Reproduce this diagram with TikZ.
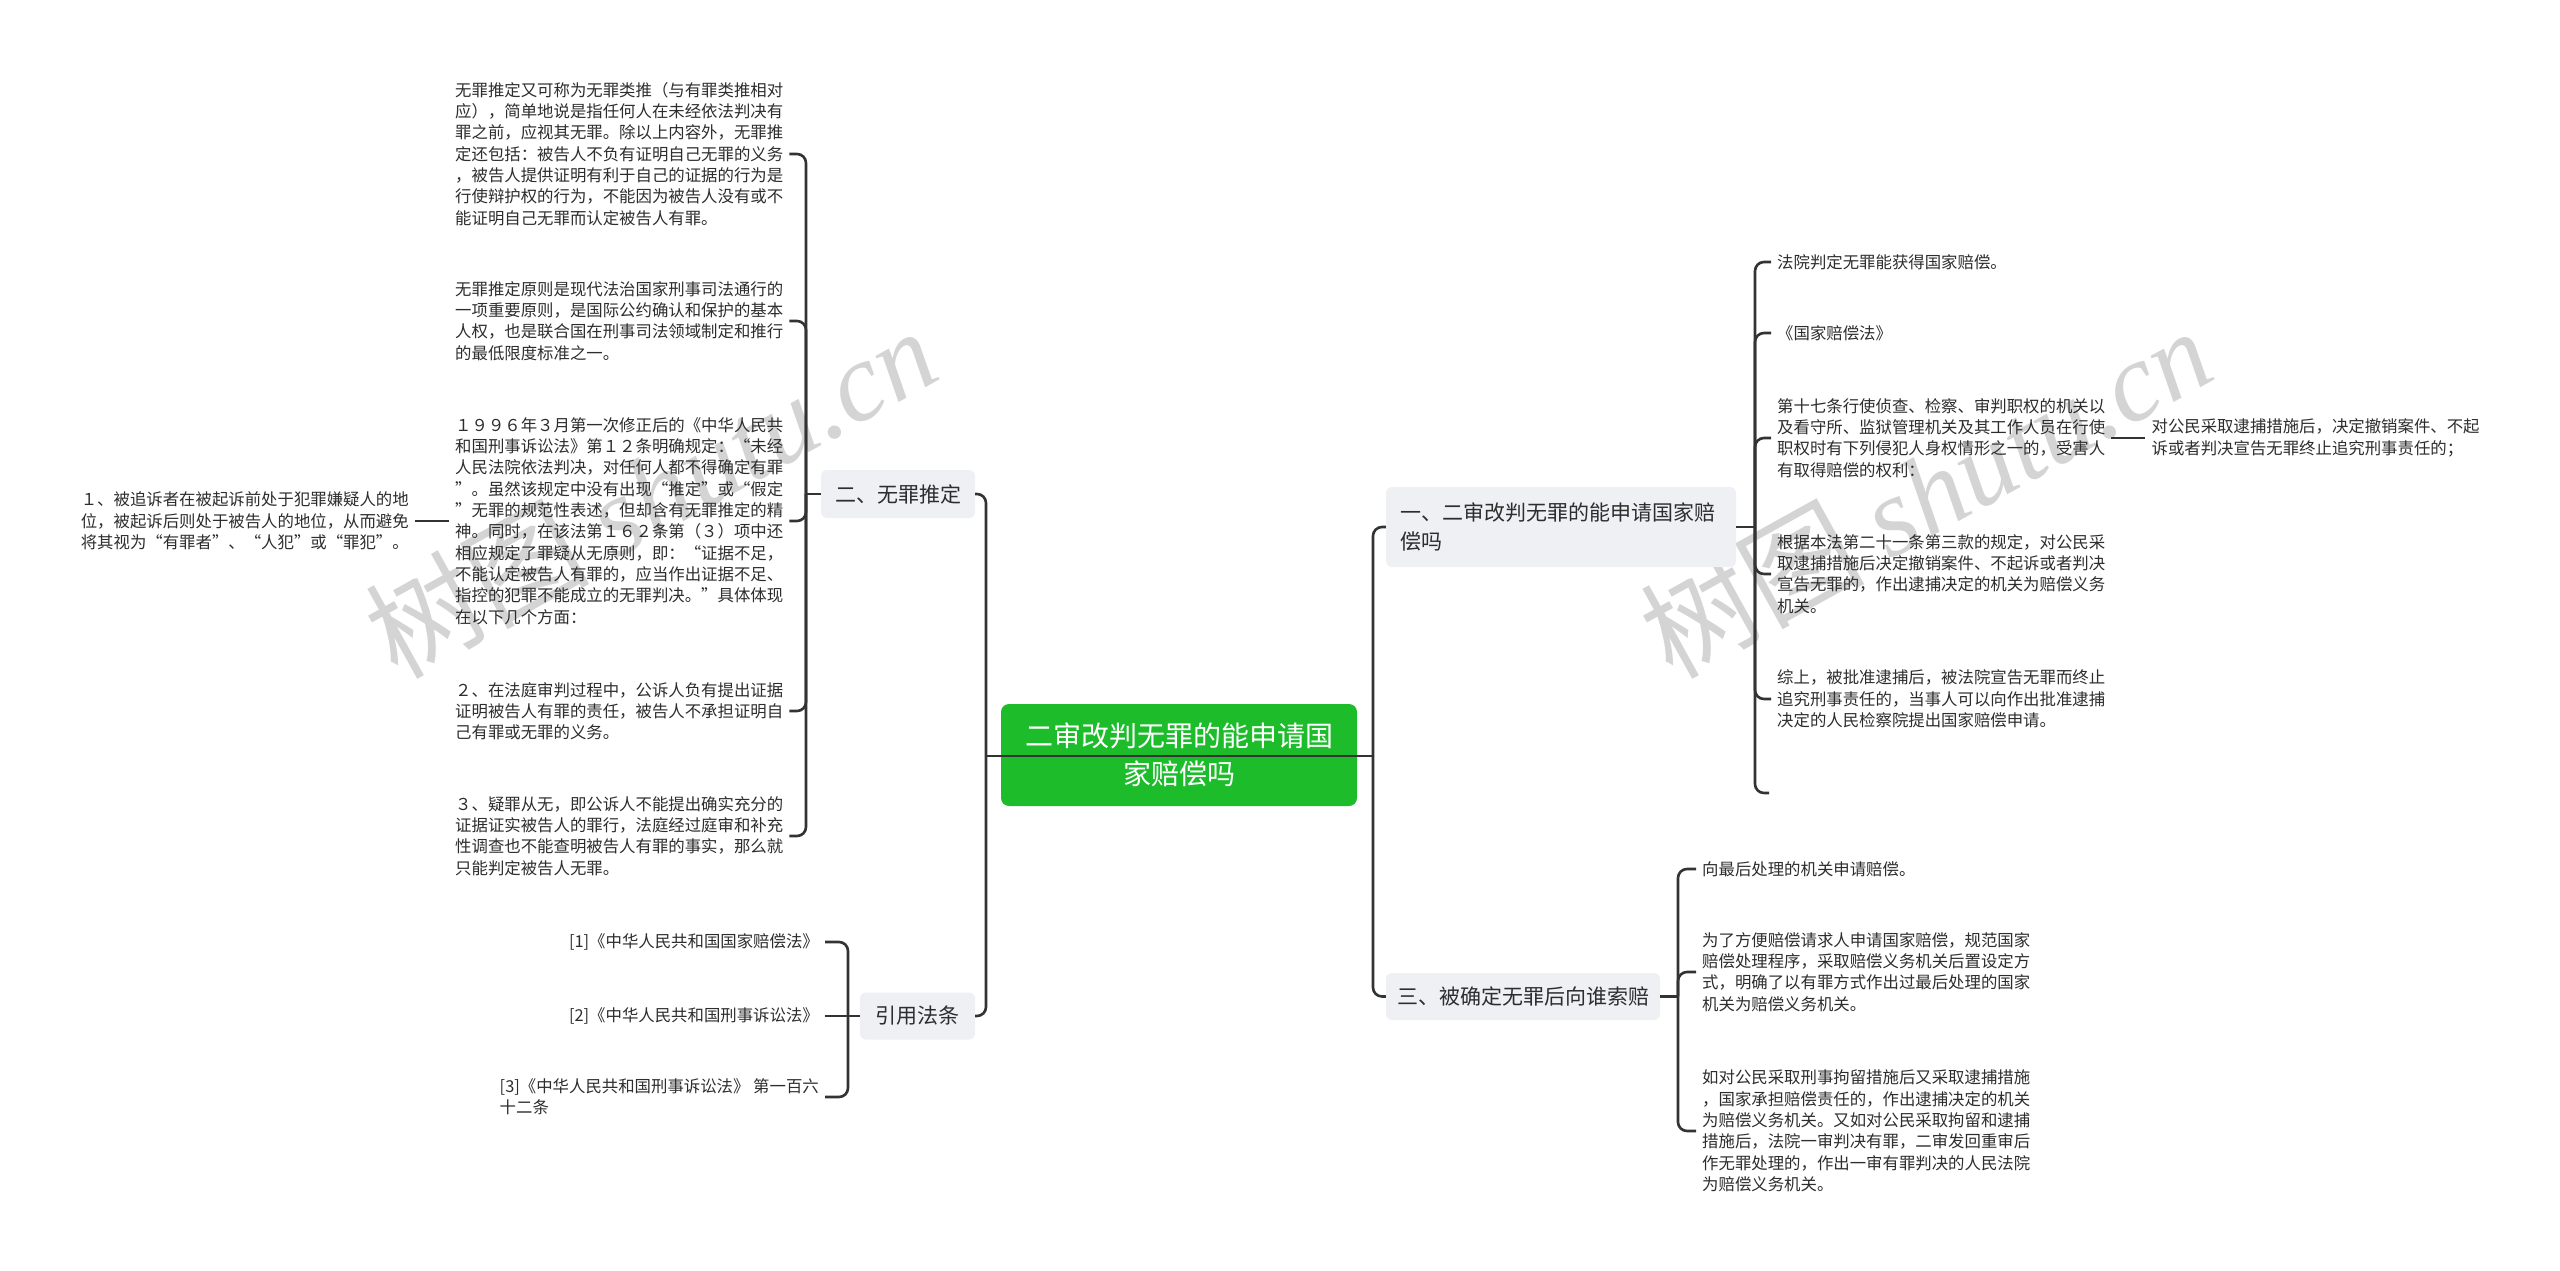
\documentclass[tikz,border=0pt]{standalone}
\usepackage{fontspec}
\setmainfont{Noto Sans CJK SC}
\newfontfamily\wmfont{Liberation Serif}
\definecolor{lc}{RGB}{51,51,51}
\definecolor{tc}{RGB}{45,45,45}
\definecolor{lonefill}{RGB}{238,240,244}
\definecolor{cgreen}{RGB}{29,188,43}
\definecolor{wm}{RGB}{212,212,212}
\tikzset{
  conn/.style={draw=lc, line width=2.6pt, rounded corners=9pt},
  leaf/.style={font=\fontsize{16.4}{21.3}\selectfont, text=tc, align=left, inner xsep=6pt, inner ysep=3pt},
  lvl/.style={font=\fontsize{21}{29}\selectfont, text=tc, fill=lonefill, rounded corners=6pt, inner sep=0pt},
  rootbox/.style={font=\fontsize{28}{38}\selectfont, text=white, fill=cgreen, rounded corners=8pt, align=center, inner sep=0pt},
  wmark/.style={font=\fontsize{112}{112}\selectfont, text=wm, inner sep=0pt}
}
\begin{document}
\begin{tikzpicture}[x=1pt,y=-1pt]
\fill[white] (0,0) rectangle (2560,1271);
\useasboundingbox (0,0) rectangle (2560,1271);

% watermarks
\node[wmark, rotate=29] (wm1) at (650,492) {树图 {\wmfont\itshape shutu.cn}};
\node[wmark, rotate=29] (wm2) at (1925,492) {树图 {\wmfont\itshape shutu.cn}};

% root
\node[rootbox, minimum width=356, minimum height=102] (root) at (1179,755) {二审改判无罪的能申请国\\家赔偿吗};

% level 1
\node[lvl, minimum width=154, minimum height=48] (n2) at (898,494) {二、无罪推定};
\node[lvl, minimum width=115, minimum height=47] (nref) at (917.5,1016) {引用法条};
\node[lvl, minimum width=350, minimum height=80, text width=322, align=left] (n1) at (1561,527) {一、二审改判无罪的能申请国家赔\\偿吗};
\node[lvl, minimum width=274, minimum height=47] (n3) at (1523,996.5) {三、被确定无罪后向谁索赔};

% left leaves of n2
\node[leaf, anchor=west] (a) at (449,154) {无罪推定又可称为无罪类推（与有罪类推相对\\应），简单地说是指任何人在未经依法判决有\\罪之前，应视其无罪。除以上内容外，无罪推\\定还包括：被告人不负有证明自己无罪的义务\\，被告人提供证明有利于自己的证据的行为是\\行使辩护权的行为，不能因为被告人没有或不\\能证明自己无罪而认定被告人有罪。};
\node[leaf, anchor=west] (b) at (449,321) {无罪推定原则是现代法治国家刑事司法通行的\\一项重要原则，是国际公约确认和保护的基本\\人权，也是联合国在刑事司法领域制定和推行\\的最低限度标准之一。};
\node[leaf, anchor=west] (c) at (449,521) {１９９６年３月第一次修正后的《中华人民共\\和国刑事诉讼法》第１２条明确规定：“未经\\人民法院依法判决，对任何人都不得确定有罪\\”。虽然该规定中没有出现“推定”或“假定\\”无罪的规范性表述，但却含有无罪推定的精\\神。同时，在该法第１６２条第（３）项中还\\相应规定了罪疑从无原则，即：“证据不足，\\不能认定被告人有罪的，应当作出证据不足、\\指控的犯罪不能成立的无罪判决。”具体体现\\在以下几个方面：};
\node[leaf, anchor=west] (d) at (449,711) {２、在法庭审判过程中，公诉人负有提出证据\\证明被告人有罪的责任，被告人不承担证明自\\己有罪或无罪的义务。};
\node[leaf, anchor=west] (e) at (449,836) {３、疑罪从无，即公诉人不能提出确实充分的\\证据证实被告人的罪行，法庭经过庭审和补充\\性调查也不能查明被告人有罪的事实，那么就\\只能判定被告人无罪。};
\node[leaf, anchor=east] (p1) at ([xshift=-34pt]c.west) {１、被追诉者在被起诉前处于犯罪嫌疑人的地\\位，被起诉后则处于被告人的地位，从而避免\\将其视为“有罪者”、“人犯”或“罪犯”。};

% references
\node[leaf, anchor=east] (f1) at (825,942) {[1]《中华人民共和国国家赔偿法》};
\node[leaf, anchor=east] (f2) at (825,1016) {[2]《中华人民共和国刑事诉讼法》};
\node[leaf, anchor=east] (f3) at (825,1097) {[3]《中华人民共和国刑事诉讼法》 第一百六\\十二条};

% right leaves of n1
\node[leaf, anchor=west] (r1) at (1771,262) {法院判定无罪能获得国家赔偿。};
\node[leaf, anchor=west] (r2) at (1771,333) {《国家赔偿法》};
\node[leaf, anchor=west] (r3) at (1771,438) {第十七条行使侦查、检察、审判职权的机关以\\及看守所、监狱管理机关及其工作人员在行使\\职权时有下列侵犯人身权情形之一的，受害人\\有取得赔偿的权利：};
\node[leaf, anchor=west] (r4) at (1771,574) {根据本法第二十一条第三款的规定，对公民采\\取逮捕措施后决定撤销案件、不起诉或者判决\\宣告无罪的，作出逮捕决定的机关为赔偿义务\\机关。};
\node[leaf, anchor=west] (r5) at (1771,699) {综上，被批准逮捕后，被法院宣告无罪而终止\\追究刑事责任的，当事人可以向作出批准逮捕\\决定的人民检察院提出国家赔偿申请。};
\coordinate (r6) at (1769,793);
\node[leaf, anchor=west] (rr) at ([xshift=34pt]r3.east) {对公民采取逮捕措施后，决定撤销案件、不起\\诉或者判决宣告无罪终止追究刑事责任的；};

% right leaves of n3
\node[leaf, anchor=west] (s1) at (1696,869) {向最后处理的机关申请赔偿。};
\node[leaf, anchor=west] (s2) at (1696,972) {为了方便赔偿请求人申请国家赔偿，规范国家\\赔偿处理程序，采取赔偿义务机关后置设定方\\式，明确了以有罪方式作出过最后处理的国家\\机关为赔偿义务机关。};
\node[leaf, anchor=west] (s3) at (1696,1131) {如对公民采取刑事拘留措施后又采取逮捕措施\\，国家承担赔偿责任的，作出逮捕决定的机关\\为赔偿义务机关。又如对公民采取拘留和逮捕\\措施后，法院一审判决有罪，二审发回重审后\\作无罪处理的，作出一审有罪判决的人民法院\\为赔偿义务机关。};

% trunk coordinates
\coordinate (LT) at (986,756);
\coordinate (RT) at (1373,756);
\coordinate (T2) at (806,494);
\coordinate (T3) at (848,1016);
\coordinate (T4) at (1755,527);
\coordinate (T5) at (1678,996.5);

% connectors from root
\draw[conn] (LT) |- (n2.east);
\draw[conn] (LT) |- (nref.east);
\draw[conn] (RT) |- (n1.west);
\draw[conn] (RT) |- (n3.west);
\draw[conn] (LT) -- (RT);

% n2 children
\draw[conn] (n2.west) -- (T2);
\draw[conn] (T2) |- (a.east);
\draw[conn] (T2) |- (b.east);
\draw[conn] (T2) |- (c.east);
\draw[conn] (T2) |- (d.east);
\draw[conn] (T2) |- (e.east);
\draw[conn] (c.west) -- (p1.east);

% references
\draw[conn] (nref.west) -- (T3);
\draw[conn] (T3) |- (f1.east);
\draw[conn] (T3) -- (f2.east);
\draw[conn] (T3) |- (f3.east);

% n1 children
\draw[conn] (n1.east) -- (T4);
\draw[conn] (T4) |- (r1.west);
\draw[conn] (T4) |- (r2.west);
\draw[conn] (T4) |- (r3.west);
\draw[conn] (T4) |- (r4.west);
\draw[conn] (T4) |- (r5.west);
\draw[conn] (T4) |- (r6);
\draw[conn] (r3.east) -- (rr.west);

% n3 children
\draw[conn] (n3.east) -- (T5);
\draw[conn] (T5) |- (s1.west);
\draw[conn] (T5) |- (s2.west);
\draw[conn] (T5) |- (s3.west);
\end{tikzpicture}
\end{document}
